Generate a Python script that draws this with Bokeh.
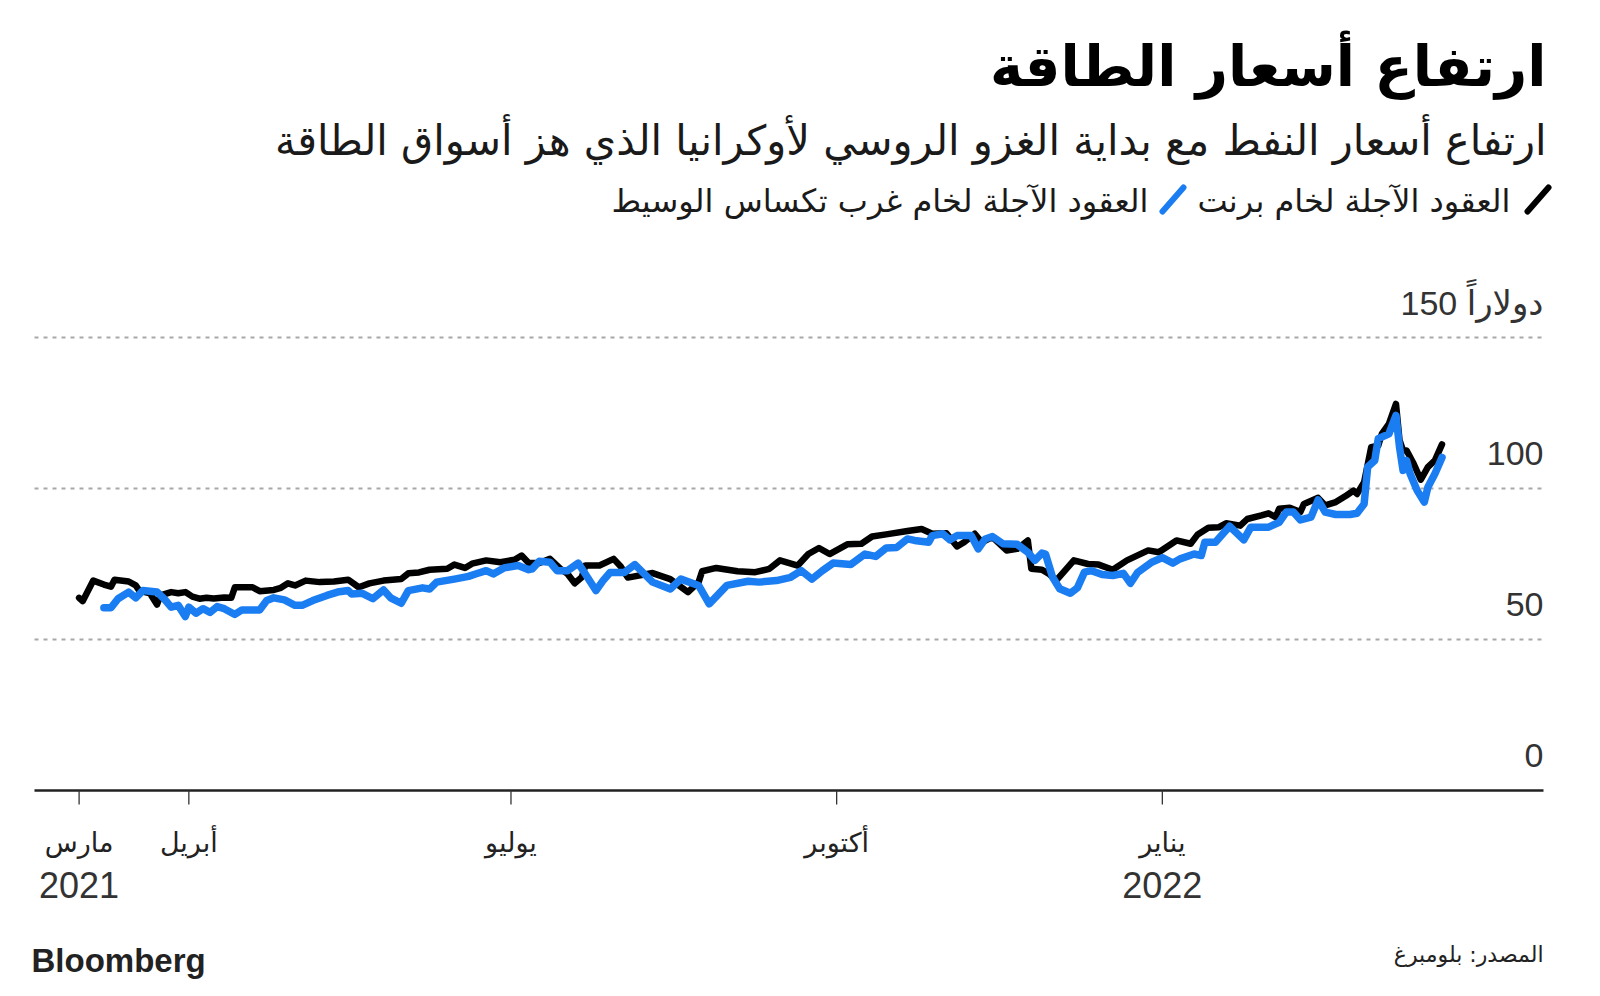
import pandas as pd
from bokeh.plotting import figure
from bokeh.models import Label, PolyAnnotation, Range1d
from bokeh.embed import file_html
from bokeh.resources import INLINE

# ---------------- data ----------------
brent_dates = [
    "2021-03-01", "2021-03-02", "2021-03-05", "2021-03-08", "2021-03-10", "2021-03-11",
    "2021-03-15", "2021-03-17", "2021-03-18", "2021-03-21", "2021-03-23", "2021-03-24",
    "2021-03-27", "2021-03-29", "2021-03-31", "2021-04-02", "2021-04-04", "2021-04-06",
    "2021-04-08", "2021-04-11", "2021-04-13", "2021-04-14", "2021-04-19", "2021-04-21",
    "2021-04-25", "2021-04-27", "2021-04-29", "2021-05-01", "2021-05-04", "2021-05-08",
    "2021-05-12", "2021-05-16", "2021-05-19", "2021-05-22", "2021-05-26", "2021-05-31",
    "2021-06-02", "2021-06-05", "2021-06-08", "2021-06-13", "2021-06-15", "2021-06-18",
    "2021-06-20", "2021-06-24", "2021-06-28", "2021-07-02", "2021-07-04", "2021-07-06",
    "2021-07-09", "2021-07-12", "2021-07-15", "2021-07-17", "2021-07-19", "2021-07-21",
    "2021-07-22", "2021-07-26", "2021-07-30", "2021-08-01", "2021-08-03", "2021-08-10",
    "2021-08-15", "2021-08-20", "2021-08-23", "2021-08-24", "2021-08-28", "2021-09-03",
    "2021-09-08", "2021-09-12", "2021-09-15", "2021-09-20", "2021-09-23", "2021-09-26",
    "2021-09-29", "2021-10-04", "2021-10-08", "2021-10-11", "2021-10-15", "2021-10-21",
    "2021-10-25", "2021-10-28", "2021-11-01", "2021-11-04", "2021-11-06", "2021-11-09",
    "2021-11-11", "2021-11-14", "2021-11-18", "2021-11-21", "2021-11-24", "2021-11-25",
    "2021-11-28", "2021-11-30", "2021-12-02", "2021-12-07", "2021-12-11", "2021-12-14",
    "2021-12-18", "2021-12-22", "2021-12-28", "2021-12-31", "2022-01-05", "2022-01-09",
    "2022-01-11", "2022-01-14", "2022-01-17", "2022-01-19", "2022-01-23", "2022-01-25",
    "2022-01-29", "2022-01-31", "2022-02-02", "2022-02-03", "2022-02-06", "2022-02-09",
    "2022-02-10", "2022-02-14", "2022-02-16", "2022-02-19", "2022-02-22", "2022-02-24",
    "2022-02-25", "2022-02-27", "2022-03-01", "2022-03-03", "2022-03-04", "2022-03-06",
    "2022-03-08", "2022-03-09", "2022-03-10", "2022-03-11", "2022-03-13", "2022-03-15",
    "2022-03-17", "2022-03-19", "2022-03-21",
]
brent_values = [
    63.8, 62.7, 69.5, 68.2, 67.5, 69.8,
    69.2, 67.9, 66.2, 65.3, 61.6, 64.6,
    65.7, 65.3, 65.7, 64.2, 63.5, 63.8,
    63.6, 63.9, 63.8, 67.3, 67.3, 66.0,
    66.4, 67.1, 68.6, 67.9, 69.5, 69.0,
    69.2, 69.8, 67.3, 68.6, 69.5, 70.0,
    71.9, 72.2, 73.1, 73.4, 74.8, 73.7,
    75.1, 76.2, 75.6, 76.4, 77.8, 75.3,
    75.3, 76.7, 73.4, 71.7, 68.6, 70.6,
    74.5, 74.5, 76.7, 74.2, 70.5, 72.0,
    70.0, 65.7, 69.0, 72.6, 73.7, 72.6,
    72.3, 73.4, 76.2, 74.5, 78.3, 80.3,
    78.3, 81.5, 81.7, 84.1, 84.8, 85.9,
    86.6, 85.0, 85.2, 80.8, 82.2, 85.0,
    82.2, 83.9, 79.5, 80.0, 82.8, 73.4,
    73.1, 71.7, 69.5, 76.2, 75.0, 74.8,
    73.1, 76.2, 79.5, 78.9, 82.8, 81.7,
    84.8, 87.0, 87.2, 88.5, 87.7, 89.9,
    91.1, 91.8, 90.5, 93.3, 93.6, 92.2,
    94.9, 96.9, 94.4, 95.5, 97.7, 99.3,
    98.2, 102.1, 113.7, 114.2, 118.1, 121.4,
    128.0, 116.0, 112.6, 112.6, 108.2, 102.9,
    107.1, 109.3, 114.6,
]

wti_dates = [
    "2021-03-08", "2021-03-10", "2021-03-12", "2021-03-15", "2021-03-17", "2021-03-19",
    "2021-03-23", "2021-03-25", "2021-03-27", "2021-03-29", "2021-03-31", "2021-04-01",
    "2021-04-03", "2021-04-05", "2021-04-07", "2021-04-09", "2021-04-11", "2021-04-14",
    "2021-04-16", "2021-04-21", "2021-04-23", "2021-04-25", "2021-04-28", "2021-05-01",
    "2021-05-03", "2021-05-06", "2021-05-10", "2021-05-13", "2021-05-16", "2021-05-17",
    "2021-05-20", "2021-05-23", "2021-05-26", "2021-05-28", "2021-05-31", "2021-06-02",
    "2021-06-06", "2021-06-08", "2021-06-10", "2021-06-15", "2021-06-19", "2021-06-21",
    "2021-06-24", "2021-06-26", "2021-06-29", "2021-07-03", "2021-07-06", "2021-07-07",
    "2021-07-09", "2021-07-12", "2021-07-14", "2021-07-17", "2021-07-20", "2021-07-22",
    "2021-07-25", "2021-07-27", "2021-07-29", "2021-08-02", "2021-08-05", "2021-08-10",
    "2021-08-15", "2021-08-18", "2021-08-23", "2021-08-26", "2021-08-31", "2021-09-06",
    "2021-09-09", "2021-09-14", "2021-09-18", "2021-09-21", "2021-09-24", "2021-09-27",
    "2021-09-30", "2021-10-05", "2021-10-09", "2021-10-12", "2021-10-15", "2021-10-18",
    "2021-10-21", "2021-10-23", "2021-10-27", "2021-10-28", "2021-10-31", "2021-11-02",
    "2021-11-04", "2021-11-08", "2021-11-10", "2021-11-12", "2021-11-14", "2021-11-17",
    "2021-11-21", "2021-11-24", "2021-11-26", "2021-11-28", "2021-11-29", "2021-12-01",
    "2021-12-03", "2021-12-06", "2021-12-08", "2021-12-10", "2021-12-12", "2021-12-15",
    "2021-12-18", "2021-12-21", "2021-12-23", "2021-12-25", "2021-12-29", "2022-01-01",
    "2022-01-04", "2022-01-06", "2022-01-10", "2022-01-12", "2022-01-13", "2022-01-16",
    "2022-01-20", "2022-01-24", "2022-01-26", "2022-01-31", "2022-02-03", "2022-02-05",
    "2022-02-07", "2022-02-09", "2022-02-12", "2022-02-14", "2022-02-16", "2022-02-19",
    "2022-02-23", "2022-02-25", "2022-02-27", "2022-02-28", "2022-03-02", "2022-03-03",
    "2022-03-06", "2022-03-08", "2022-03-09", "2022-03-10", "2022-03-11", "2022-03-12",
    "2022-03-14", "2022-03-16", "2022-03-17", "2022-03-19", "2022-03-21",
]
wti_values = [
    60.5, 60.5, 63.5, 65.7, 63.8, 66.2,
    65.7, 63.5, 60.7, 61.3, 57.6, 60.7,
    58.7, 60.2, 59.0, 60.9, 60.2, 58.3,
    59.8, 59.8, 62.9, 63.8, 63.1, 61.3,
    61.3, 62.9, 64.6, 65.7, 66.2, 65.1,
    65.3, 63.5, 66.4, 63.8, 62.0, 66.2,
    67.1, 66.7, 69.0, 70.0, 70.9, 71.7,
    72.8, 71.7, 73.7, 74.5, 73.1, 73.4,
    75.9, 75.6, 72.8, 72.8, 75.3, 71.7,
    66.2, 69.5, 72.2, 72.2, 74.8, 69.0,
    66.7, 70.0, 67.9, 61.8, 67.9, 69.3,
    69.0, 69.5, 70.6, 72.8, 70.0, 72.8,
    75.3, 74.8, 78.3, 77.5, 80.3, 80.5,
    83.3, 82.8, 82.2, 84.4, 85.0, 83.0,
    84.4, 84.4, 80.0, 83.3, 84.1, 81.7,
    81.5, 78.9, 76.2, 78.6, 78.3, 70.6,
    66.8, 65.3, 67.1, 72.3, 72.8, 71.5,
    71.2, 71.9, 68.6, 72.2, 75.6, 77.1,
    75.3, 76.7, 78.3, 77.8, 82.2, 82.2,
    87.5, 83.0, 87.2, 87.2, 88.8, 92.2,
    92.2, 89.6, 90.5, 96.2, 92.2, 91.4,
    91.4, 91.8, 94.9, 107.1, 109.3, 116.5,
    118.1, 124.2, 113.7, 106.0, 109.3, 104.9,
    99.3, 95.5, 100.4, 104.9, 110.3,
]

tick_dates = ["2021-03-01", "2021-04-01", "2021-07-01", "2021-10-01", "2022-01-01"]
tick_months = ["مارس", "أبريل", "يوليو", "أكتوبر", "يناير"]
tick_years = ["2021", "", "", "", "2022"]
y_ticks = [0, 50, 100, 150]
y_tick_labels = ["0", "50", "100", "دولاراً 150"]

title_text = "ارتفاع أسعار الطاقة"
subtitle_text = "ارتفاع أسعار النفط مع بداية الغزو الروسي لأوكرانيا الذي هز أسواق الطاقة"
brent_name = "العقود الآجلة لخام برنت"
wti_name = "العقود الآجلة لخام غرب تكساس الوسيط"
source_text = "المصدر: بلومبرغ"
brand_text = "Bloomberg"

BRENT_COLOR = "#000000"
WTI_COLOR = "#1b7df2"

# ---------------- layout geometry (canvas pixels) ----------------
W, H = 1584, 980
PX_PER_DAY = 3.54            # horizontal scale
PX_PER_USD = 3.02            # vertical scale
X_MAR1 = 78.6                # pixel of 2021-03-01
Y_ZERO = 790                 # pixel of value 0 (axis line)
GRID_LEFT, GRID_RIGHT = 34, 1543

base = pd.Timestamp("2021-03-01")


def px_to_date(px):
    return base + pd.Timedelta(days=(px - X_MAR1) / PX_PER_DAY)


x_range = Range1d(px_to_date(0), px_to_date(W))
y_range = Range1d(-(H - Y_ZERO) / PX_PER_USD, Y_ZERO / PX_PER_USD)

p = figure(width=W, height=H, x_axis_type="datetime", x_range=x_range, y_range=y_range,
           x_axis_location=None, y_axis_location=None, min_border=0,
           output_backend="svg", toolbar_location=None)
p.outline_line_color = None
p.background_fill_color = "white"
p.border_fill_color = "white"
p.grid.visible = False

grid_x0 = px_to_date(GRID_LEFT)
grid_x1 = px_to_date(GRID_RIGHT)

# dotted grid lines
gy = [v for v in y_ticks if v != 0]
p.segment(x0=[grid_x0] * len(gy), x1=[grid_x1] * len(gy), y0=gy, y1=gy,
          line_color="#a8a8a8", line_width=2, line_dash="4 5")

# x axis: baseline and ticks
p.segment(x0=[grid_x0], x1=[grid_x1], y0=[0], y1=[0], line_color="#222222", line_width=2.5)
tick_ts = pd.to_datetime(tick_dates)
tick_len = 14 / PX_PER_USD
p.segment(x0=tick_ts, x1=tick_ts, y0=[0] * len(tick_ts), y1=[-tick_len] * len(tick_ts),
          line_color="#333333", line_width=1.3)

# series
p.line(pd.to_datetime(brent_dates), brent_values, line_color=BRENT_COLOR, line_width=6.5,
       line_join="round", line_cap="round")
p.line(pd.to_datetime(wti_dates), wti_values, line_color=WTI_COLOR, line_width=7.5,
       line_join="round", line_cap="round")

ARABIC = "DejaVu Sans"
MIXED = "Liberation Sans, DejaVu Sans"


def add_text(text, X, Y, size, font, align="right", color="#000000", style="normal"):
    p.add_layout(Label(x=X, y=H - Y, x_units="screen", y_units="screen",
                       text=text, text_font=font, text_font_size=f"{size}px",
                       text_align=align, text_baseline="middle", text_color=color,
                       text_font_style=style))


def add_slash(X0, Y0, X1, Y1, color):
    p.add_layout(PolyAnnotation(xs=[X0, X1], ys=[H - Y0, H - Y1],
                                xs_units="screen", ys_units="screen",
                                fill_color=None, fill_alpha=0, line_color=color,
                                line_alpha=1.0, line_width=6,
                                line_cap="round", line_join="round"))


# x tick labels (month, and year under the first month of each year)
for d, m, yr in zip(tick_ts, tick_months, tick_years):
    ms = d.value / 1e6
    p.add_layout(Label(x=ms, y=H - 842, x_units="data", y_units="screen", text=m,
                       text_font=MIXED, text_font_size="27px", text_align="center",
                       text_baseline="middle", text_color="#222222"))
    if yr:
        p.add_layout(Label(x=ms, y=H - 884, x_units="data", y_units="screen", text=yr,
                           text_font=MIXED, text_font_size="36px", text_align="center",
                           text_baseline="middle", text_color="#333333"))

# y labels, above grid lines
for v, t in zip(y_ticks, y_tick_labels):
    p.add_layout(Label(x=GRID_RIGHT, y=v, x_units="screen", y_units="data", y_offset=35,
                       text=t, text_font=MIXED, text_font_size="34px",
                       text_align="right", text_baseline="middle", text_color="#333333"))

# headings
add_text(title_text, 1546, 66, 56, ARABIC, style="bold")
add_text(subtitle_text, 1546, 140, 41.5, ARABIC, color="#1a1a1a")
add_slash(1527, 211, 1548, 187, BRENT_COLOR)
add_text(brent_name, 1510, 200, 32, ARABIC, color="#1a1a1a")
add_slash(1162, 211, 1183, 187, WTI_COLOR)
add_text(wti_name, 1148, 200, 32, ARABIC, color="#1a1a1a")

# footer
add_text(brand_text, 31, 960, 33, "Liberation Sans", align="left", color="#222222", style="bold")
add_text(source_text, 1543, 954, 22, ARABIC, color="#222222")

open("out.html", "w").write(file_html(p, INLINE))
